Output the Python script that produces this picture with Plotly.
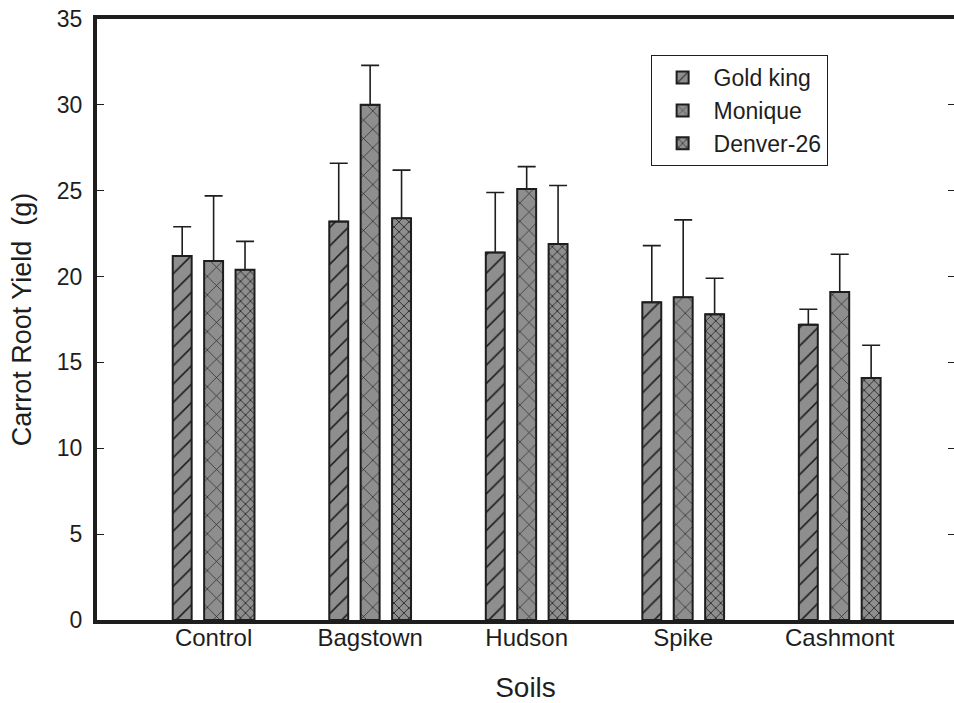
import plotly.graph_objects as go

soils = ["Control", "Bagstown", "Hudson", "Spike", "Cashmont"]
varieties = ["Gold king", "Monique", "Denver-26"]
gold_king = [21.2, 23.2, 21.4, 18.5, 17.2]
gold_king_err = [1.7, 3.4, 3.5, 3.3, 0.9]
monique = [20.9, 30.0, 25.1, 18.8, 19.1]
monique_err = [3.8, 2.3, 1.3, 4.5, 2.2]
denver = [20.4, 23.4, 21.9, 17.8, 14.1]
denver_err = [1.65, 2.8, 3.4, 2.1, 1.9]
y_ticks = [0, 5, 10, 15, 20, 25, 30, 35]

series = [
    (varieties[0], gold_king, gold_king_err, "/", 13, 0.12),
    (varieties[1], monique, monique_err, "x", 13, 0.10),
    (varieties[2], denver, denver_err, "x", 7, 0.22),
]

FONT = "Liberation Sans, Arial, sans-serif"
GRAY = "#8e8e8e"
INK = "#1e1e1e"

fig = go.Figure()
for name, vals, errs, shape, size, sol in series:
    fig.add_trace(go.Bar(
        name=name, x=list(range(len(soils))), y=vals,
        marker=dict(color=GRAY, line=dict(color=INK, width=2),
                    pattern=dict(shape=shape, size=size, solidity=sol,
                                 fgcolor=INK, bgcolor=GRAY, fillmode="replace")),
        error_y=dict(type="data", array=errs, arrayminus=[0] * len(errs),
                     symmetric=False, color=INK, thickness=1.6, width=9),
    ))

# invisible trace to carry right-side mirrored ticks
fig.add_trace(go.Scatter(x=[0], y=[0], yaxis="y2", mode="markers",
                         marker=dict(opacity=0), showlegend=False, hoverinfo="skip"))

fig.update_layout(
    width=954, height=703,
    margin=dict(l=97, r=0, t=19, b=81),
    paper_bgcolor="white", plot_bgcolor="white",
    barmode="group", bargap=0.398, bargroupgap=0.397,
    font=dict(family=FONT, color=INK, size=23),
    xaxis=dict(
        range=[-0.745, 4.73], tickmode="array",
        tickvals=list(range(len(soils))), ticktext=soils,
        showline=True, linecolor=INK, linewidth=4, mirror=True,
        ticks="", showgrid=False, zeroline=False,
        tickfont=dict(size=24), ticklabelstandoff=-7,
        title=dict(text="Soils", font=dict(size=28), standoff=33),
    ),
    yaxis=dict(
        range=[0, 35], tickvals=y_ticks,
        showline=True, linecolor=INK, linewidth=4,
        ticks="inside", ticklen=7, tickwidth=1, tickcolor=INK,
        showgrid=False, zeroline=False, tickfont=dict(size=23),
        ticklabelstandoff=6,
        title=dict(text="Carrot Root Yield  (g)", font=dict(size=27), standoff=18),
    ),
    yaxis2=dict(
        range=[0, 35], tickvals=y_ticks, overlaying="y", side="right",
        showline=False, ticks="inside", ticklen=6, tickwidth=1, tickcolor=INK,
        showticklabels=False, showgrid=False, zeroline=False,
    ),
    legend=dict(
        x=0.646, y=0.94, xanchor="left", yanchor="top",
        bgcolor="white", bordercolor=INK, borderwidth=1,
        font=dict(size=23), traceorder="normal",
        itemwidth=52, tracegroupgap=4,
        entrywidth=196, entrywidthmode="pixels",
    ),
    showlegend=True,
)

fig.write_html(
    "out.html",
    config={"displayModeBar": False},
    post_script="document.body.style.margin='0';document.body.style.overflow='hidden';",
)
